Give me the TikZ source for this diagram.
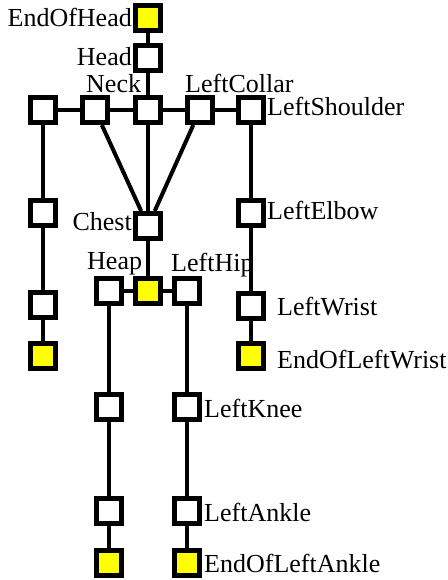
\documentclass[tikz,border=0pt]{standalone}
\usepackage{fontspec}
\setmainfont{Liberation Serif}
\usetikzlibrary{calc}
\definecolor{jointyellow}{RGB}{255,255,0}
\tikzset{
  joint/.style={draw=black, fill=white, line width=5pt, minimum size=25pt, inner sep=0pt, rectangle},
  endjoint/.style={joint, fill=jointyellow},
  bone/.style={draw=black, line width=4pt},
  lbl/.style={inner sep=0pt, font=\fontsize{26}{30}\selectfont}
}
\begin{document}
\begin{tikzpicture}[x=1pt,y=-1pt]
\useasboundingbox (0,0) rectangle (447,580);
% joints
\node[endjoint] (eoh) at (148,18) {};
\node[joint] (head) at (148,58) {};
\node[joint] (rshoulder) at (43,110) {};
\node[joint] (rcollar) at (95,110) {};
\node[joint] (neck) at (148,110) {};
\node[joint] (lcollar) at (200,110) {};
\node[joint] (lshoulder) at (251,110) {};
\node[joint] (relbow) at (43,213) {};
\node[joint] (rwrist) at (43,305) {};
\node[endjoint] (rend) at (43,356) {};
\node[joint] (lelbow) at (251,213) {};
\node[joint] (lwrist) at (251,306) {};
\node[endjoint] (lend) at (251,356) {};
\node[joint] (chest) at (148,226) {};
\node[joint] (rhip) at (109,291) {};
\node[endjoint] (hip) at (148,291) {};
\node[joint] (lhip) at (187,291) {};
\node[joint] (rknee) at (109,407) {};
\node[joint] (rankle) at (109,511) {};
\node[endjoint] (rfoot) at (109,563) {};
\node[joint] (lknee) at (187,407) {};
\node[joint] (lankle) at (187,511) {};
\node[endjoint] (lfoot) at (187,563) {};
% bones
\draw[bone] (eoh) -- (head);
\draw[bone] (head) -- (neck);
\draw[bone] (rshoulder) -- (rcollar);
\draw[bone] (rcollar) -- (neck);
\draw[bone] (neck) -- (lcollar);
\draw[bone] (lcollar) -- (lshoulder);
\draw[bone] (rshoulder) -- (relbow);
\draw[bone] (relbow) -- (rwrist);
\draw[bone] (rwrist) -- (rend);
\draw[bone] (lshoulder) -- (lelbow);
\draw[bone] (lelbow) -- (lwrist);
\draw[bone] (lwrist) -- (lend);
\draw[bone] (rcollar) -- (chest);
\draw[bone] (neck) -- (chest);
\draw[bone] (lcollar) -- (chest);
\draw[bone] (chest) -- (hip);
\draw[bone] (rhip) -- (hip);
\draw[bone] (hip) -- (lhip);
\draw[bone] (rhip) -- (rknee);
\draw[bone] (rknee) -- (rankle);
\draw[bone] (rankle) -- (rfoot);
\draw[bone] (lhip) -- (lknee);
\draw[bone] (lknee) -- (lankle);
\draw[bone] (lankle) -- (lfoot);
% labels
\node[lbl, anchor=base east] (teoh) at ($(eoh.west)+(-1,9)$) {EndOfHead};
\node[lbl, anchor=base east] (thead) at ($(head.west)+(-1,8)$) {Head};
\node[lbl, anchor=base west] (tneck) at (86,93) {Neck};
\node[lbl, anchor=base west] (tlcollar) at (185,93) {LeftCollar};
\node[lbl, anchor=base west] (tlshoulder) at ($(lshoulder.east)+(1,6)$) {LeftShoulder};
\node[lbl, anchor=base west] (tlelbow) at ($(lelbow.east)+(1,6)$) {LeftElbow};
\node[lbl, anchor=base west] (tlwrist) at ($(lwrist.east)+(11,9)$) {LeftWrist};
\node[lbl, anchor=base west] (tlend) at ($(lend.east)+(11,12)$) {EndOfLeftWrist};
\node[lbl, anchor=base east] (tchest) at ($(chest.west)+(-1,4)$) {Chest};
\node[lbl, anchor=base west] (trhip) at (87,269) {Heap};
\node[lbl, anchor=base west] (tlhip) at (171,271) {LeftHip};
\node[lbl, anchor=base west] (tlknee) at ($(lknee.east)+(2,10)$) {LeftKnee};
\node[lbl, anchor=base west] (tlankle) at ($(lankle.east)+(2,10)$) {LeftAnkle};
\node[lbl, anchor=base west] (tlfoot) at ($(lfoot.east)+(2,9)$) {EndOfLeftAnkle};
\end{tikzpicture}
\end{document}
